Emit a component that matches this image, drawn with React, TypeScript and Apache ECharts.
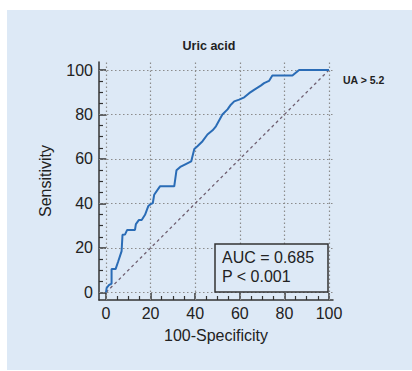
import React, { useEffect, useRef } from "react";
import * as echarts from "echarts";

// ROC curve points (100-Specificity, Sensitivity)
const fpr = [0, 0.3, 1.3, 2.5, 2.5, 4.3, 5.5, 7, 7.4, 8.5, 9.5, 13, 13.4, 14.8, 16, 17.5, 19, 20, 21, 21.6, 24.2, 30.6, 31.6, 33.3, 35.8, 38.2, 39.6, 41, 43.3, 45.5, 47.8, 49.3, 52.2, 54.5, 56, 57.5, 59.7, 62, 64.2, 66.4, 69.4, 70.9, 73.1, 74.6, 83.6, 86.6, 100];
const tpr = [0, 2, 3.3, 4, 10.5, 10.5, 14, 18.6, 25.9, 26, 28.1, 28.1, 30.7, 32.6, 32.6, 34.9, 38.9, 39.7, 40.2, 43.9, 47.7, 47.7, 54.9, 56.4, 57.7, 58.9, 64.5, 65.7, 68, 71, 72.9, 74.7, 80, 82.3, 84.4, 85.9, 86.7, 87.7, 89.6, 91.1, 93, 94.1, 95.1, 97.5, 97.5, 100, 100];
const diagonal = [[0, 0], [100, 100]];
const majorTicks = [0, 20, 40, 60, 80, 100];
const minorTicks = [5, 10, 15, 25, 30, 35, 45, 50, 55, 65, 70, 75, 85, 90, 95];
const titleText = "Uric acid";
const criterionText = "UA > 5.2";
const aucText = "AUC = 0.685";
const pText = "P < 0.001";

const FONT = "Liberation Sans, Arial, sans-serif";

export default function App() {
  const ref = useRef<HTMLDivElement>(null);
  useEffect(() => {
    if (!ref.current) return;
    const chart = echarts.init(ref.current, null, { renderer: "svg" });
    const axisColor = "#333";
    const gridStyle = { color: "#8c8c8c", type: [1.5, 2.5], width: 1.2 };
    const xMin = -3.14, xMax = 101.8, yMin = -3.4, yMax = 103.6;
    const mkMajor = (isX: boolean) => ({
      type: "value",
      min: isX ? xMin : yMin,
      max: isX ? xMax : yMax,
      position: isX ? "bottom" : "left",
      axisLine: { show: true, onZero: false, lineStyle: { color: axisColor, width: 1.5 } },
      axisTick: { show: true, inside: true, length: 7, customValues: majorTicks, lineStyle: { color: axisColor, width: 1.5 } },
      axisLabel: { show: true, customValues: majorTicks, fontSize: 16, fontFamily: FONT, color: "#222", margin: isX ? 5 : 6 },
      splitLine: { show: false },
      name: isX ? "100-Specificity" : "Sensitivity",
      nameLocation: "middle",
      nameGap: isX ? 27 : 46,
      nameTextStyle: { fontSize: 16, fontFamily: FONT, color: "#222" },
    });
    const mkMinor = (isX: boolean) => ({
      type: "value",
      min: isX ? xMin : yMin,
      max: isX ? xMax : yMax,
      position: isX ? "bottom" : "left",
      offset: 0,
      axisLine: { show: false, onZero: false },
      axisTick: { show: true, inside: true, length: 4, customValues: minorTicks, lineStyle: { color: axisColor, width: 1.2 } },
      axisLabel: { show: false },
      splitLine: { show: false },
    });
    const gridMarks: any[] = [];
    majorTicks.forEach((v) => {
      gridMarks.push({ xAxis: v });
      gridMarks.push({ yAxis: v });
    });
    chart.setOption({
      animation: false,
      backgroundColor: "#ffffff",
      grid: { left: 99, right: 79, top: 62, bottom: 71, containLabel: false },
      xAxis: [mkMajor(true), mkMinor(true)],
      yAxis: [mkMajor(false), mkMinor(false)],
      graphic: [
        { type: "rect", z: -10, shape: { x: 7, y: 10, width: 405, height: 360 }, style: { fill: "#dde9f6" }, silent: true },
        { type: "text", x: 209, y: 46, style: { text: titleText, fontSize: 12.5, fontWeight: "bold", fontFamily: FONT, fill: "#222", textAlign: "center", textVerticalAlign: "middle" } },
        { type: "text", x: 343, y: 80, style: { text: criterionText, fontSize: 10.5, fontWeight: "bold", fontFamily: FONT, fill: "#222", textAlign: "left", textVerticalAlign: "middle" } },
        { type: "rect", z: 20, shape: { x: 215, y: 244, width: 113, height: 48 }, style: { fill: "#dde9f6", stroke: "#333", lineWidth: 1.5 } },
        { type: "text", z: 21, x: 222, y: 257, style: { text: aucText, fontSize: 16, fontFamily: FONT, fill: "#222", textAlign: "left", textVerticalAlign: "middle" } },
        { type: "text", z: 21, x: 222, y: 276, style: { text: pText, fontSize: 16, fontFamily: FONT, fill: "#222", textAlign: "left", textVerticalAlign: "middle" } },
      ],
      series: [
        {
          type: "line",
          xAxisIndex: 0,
          yAxisIndex: 0,
          data: diagonal,
          showSymbol: false,
          lineStyle: { color: "#6f5f70", width: 1.3, type: [3, 3] },
          z: 3,
          markLine: {
            silent: true,
            symbol: ["none", "none"],
            label: { show: false },
            lineStyle: gridStyle,
            data: gridMarks,
            z: 1,
          },
        },
        {
          type: "line",
          xAxisIndex: 0,
          yAxisIndex: 0,
          data: fpr.map((x, i) => [x, tpr[i]]),
          showSymbol: false,
          lineStyle: { color: "#2a6cb6", width: 2 },
          z: 5,
        },
      ],
    });
    return () => chart.dispose();
  }, []);
  return (
    <div style={{ position: "fixed", left: 0, top: 0, width: 412, height: 371, background: "#fff" }}>
      <div ref={ref} style={{ width: 412, height: 371 }} />
    </div>
  );
}
